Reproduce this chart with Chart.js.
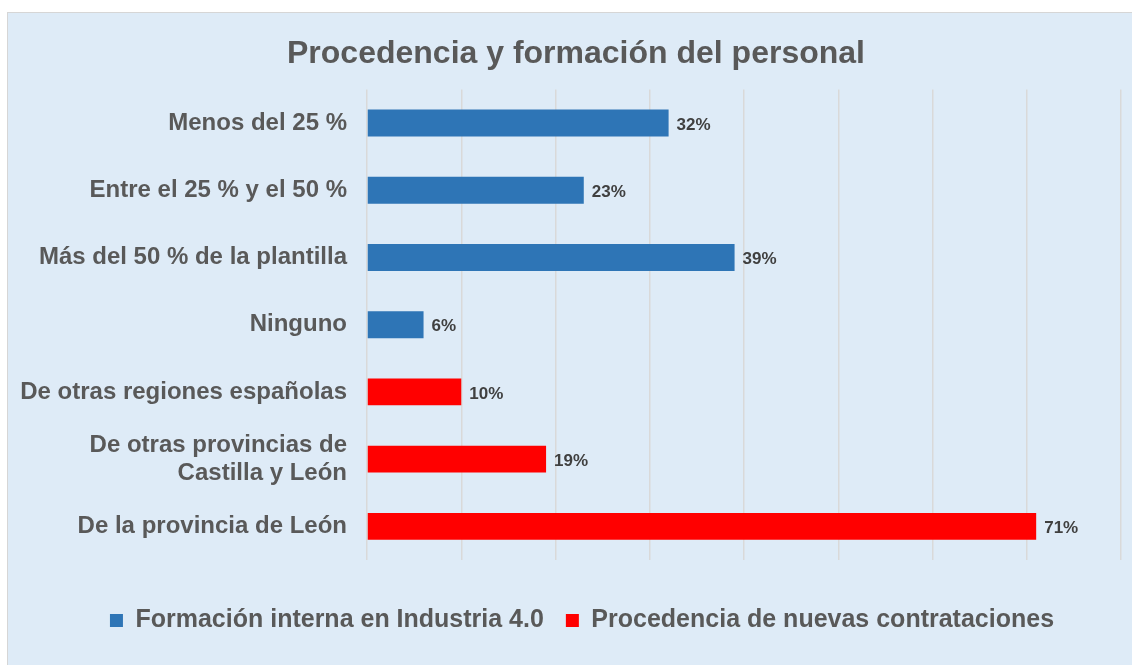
<!DOCTYPE html>
<html>
<head>
<meta charset="utf-8">
<script src="https://cdn.jsdelivr.net/npm/chart.js@4.4.0/dist/chart.umd.min.js"></script>
<style>
  html, body { margin: 0; padding: 0; background: #ffffff; }
  #frame {
    position: absolute; left: 7px; top: 12px; width: 1130px; height: 660px;
    background: #deebf7; border: 1px solid #d6d6d6; box-sizing: border-box;
  }
  #chartBox { position: absolute; left: 0; top: 0; width: 1132px; height: 665px; }
</style>
</head>
<body>
<div id="frame"></div>
<div id="chartBox"><canvas id="staffChart" width="1132" height="665"></canvas></div>
<script>
// categories, top to bottom
const categories = [
    'Menos del 25 %',
    'Entre el 25 % y el 50 %',
    'Más del 50 % de la plantilla',
    'Ninguno',
    'De otras regiones españolas',
    ['De otras provincias de', 'Castilla y León'],
    'De la provincia de León'
];
// percentages (null where the bar belongs to the other series)
const formacionInterna = [32, 23, 39, 6, null, null, null];
const procedencia = [null, null, null, null, 10, 19, 71];
const seriesNames = ['Formación interna en Industria 4.0', 'Procedencia de nuevas contrataciones'];
const xTicks = [0, 10, 20, 30, 40, 50, 60, 70, 80];

const fontFamily = "'Liberation Sans', Arial, sans-serif";

// draws the "32%" labels next to each bar
const valueLabels = {
    id: 'valueLabels',
    afterDatasetsDraw(chart) {
        const ctx = chart.ctx;
        ctx.save();
        ctx.font = 'bold 17px ' + fontFamily;
        ctx.fillStyle = '#404040';
        ctx.textBaseline = 'middle';
        ctx.textAlign = 'left';
        chart.data.datasets.forEach((ds, i) => {
            const meta = chart.getDatasetMeta(i);
            meta.data.forEach((bar, j) => {
                const v = ds.data[j];
                if (v === null || v === undefined) return;
                ctx.fillText(v + '%', bar.x + 8, bar.y + 2);
            });
        });
        ctx.restore();
    }
};

// title and legend sit a bit right of the plot centre in the original
const nudgeBlocks = {
    id: 'nudgeBlocks',
    afterLayout(chart) {
        if (chart.titleBlock) { chart.titleBlock.left += 12; chart.titleBlock.right += 12; }
        if (chart.legend) { chart.legend.left += 18; chart.legend.right += 18; }
    }
};

const ctx = document.getElementById('staffChart').getContext('2d');
const staffChart = new Chart(ctx, {
    type: 'bar',
    data: {
        labels: categories,
        datasets: [
            {
                label: seriesNames[0],
                data: formacionInterna,
                backgroundColor: '#2e75b6',
                barPercentage: 0.4,
                categoryPercentage: 1
            },
            {
                label: seriesNames[1],
                data: procedencia,
                backgroundColor: '#ff0000',
                barPercentage: 0.4,
                categoryPercentage: 1
            }
        ]
    },
    options: {
        indexAxis: 'y',
        responsive: false,
        animation: false,
        devicePixelRatio: 1,
        layout: {
            padding: { left: 7, right: 11, top: 12, bottom: 22 }
        },
        scales: {
            x: {
                stacked: true,
                min: xTicks[0],
                max: xTicks[xTicks.length - 1],
                afterBuildTicks: scale => { scale.ticks = xTicks.map(v => ({ value: v })); },
                afterFit: scale => { scale.height = 26; },
                ticks: { display: false },
                grid: { color: '#d9d9d9', lineWidth: 1.5, drawTicks: false },
                border: { display: false }
            },
            y: {
                stacked: true,
                afterFit: scale => { scale.width = 360; },
                grid: { display: false, drawTicks: false },
                border: { display: false },
                ticks: {
                    padding: 20,
                    color: '#595959',
                    font: { family: fontFamily, size: 24, weight: 'bold', lineHeight: 1.18 }
                }
            }
        },
        plugins: {
            title: {
                display: true,
                text: 'Procedencia y formación del personal',
                color: '#595959',
                font: { family: fontFamily, size: 32, weight: 'bold' },
                padding: { top: 23, bottom: 16 }
            },
            legend: {
                position: 'bottom',
                labels: {
                    color: '#595959',
                    font: { family: fontFamily, size: 25, weight: 'bold' },
                    boxWidth: 13,
                    boxHeight: 13,
                    padding: 22
                }
            },
            tooltip: { enabled: false }
        }
    },
    plugins: [valueLabels, nudgeBlocks]
});
</script>
</body>
</html>
